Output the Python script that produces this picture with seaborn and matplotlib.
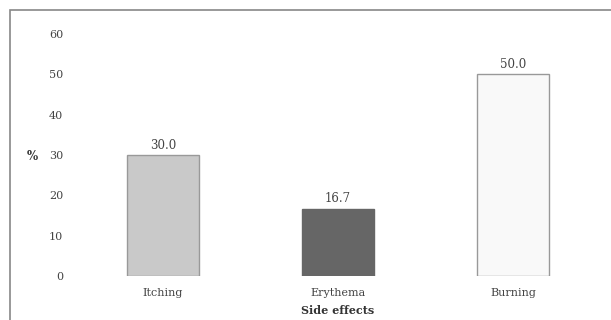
import matplotlib
matplotlib.use("Agg")
import matplotlib.pyplot as plt
import seaborn as sns
import pandas as pd
from matplotlib.patches import Rectangle

categories = ["Itching", "Erythema", "Burning"]
values = [30.0, 16.7, 50.0]
yticks = [0, 10, 20, 30, 40, 50, 60]
bar_colors = ["#c9c9c9", "#666666", "#f9f9f9"]
edge_colors = ["#999999", "#666666", "#999999"]

sns.set_theme(style="white")
plt.rcParams["font.family"] = ["DejaVu Serif", "Liberation Serif"]

df = pd.DataFrame({"cat": categories, "val": values})

fig = plt.figure(figsize=(6.11, 3.2), dpi=100)
ax = fig.add_axes([75.5 / 611, 44 / 320, 525 / 611, 242 / 320])
sns.barplot(data=df, x="cat", y="val", hue="cat", palette=bar_colors,
            width=0.41, ax=ax, legend=False, saturation=1)
for p, ec in zip(ax.patches, edge_colors):
    p.set_edgecolor(ec)
    p.set_linewidth(1.0)

for i, v in enumerate(values):
    ax.text(i, v + 0.8, f"{v:.1f}", ha="center", va="bottom", fontsize=8.5, color="#444444")

ax.set_xlim(-0.5, 2.5)
ax.set_ylim(0, 60)
ax.set_yticks(yticks)
ax.set_yticklabels([str(t) for t in yticks])
ax.tick_params(axis="y", length=0, pad=9, labelsize=8, labelcolor="#444444")
ax.tick_params(axis="x", length=0, pad=9, labelsize=8, labelcolor="#444444")
for s in ax.spines.values():
    s.set_visible(False)
ax.set_xlabel("")
ax.set_ylabel("")
ax.set_facecolor("none")

fig.text(27 / 611, 1 - 156 / 320, "%", fontsize=8.5, fontweight="bold", color="#333333",
         ha="left", va="center")
fig.text(338 / 611, 1 - 310 / 320, "Side effects", fontsize=8, fontweight="bold",
         color="#333333", ha="center", va="center")

fig.patches.append(Rectangle((10 / 611, -0.1), 1.0, 1 - 10 / 320 + 0.1,
                             transform=fig.transFigure, fill=False,
                             edgecolor="#888888", linewidth=1.2))

fig.savefig("out.png", dpi=100)
